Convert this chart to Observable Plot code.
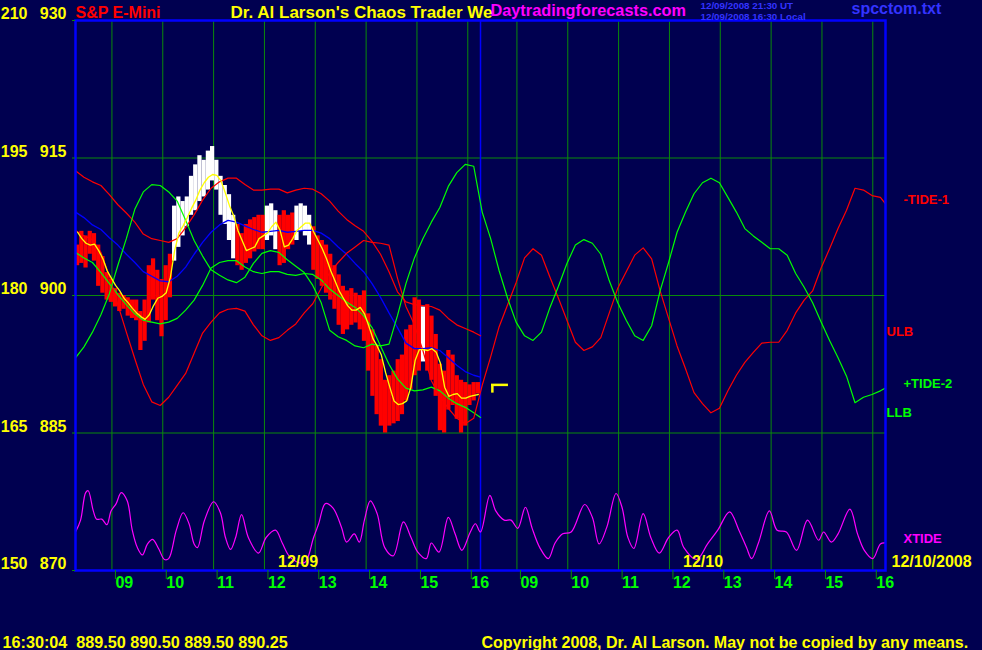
<!DOCTYPE html>
<html><head><meta charset="utf-8">
<script src="https://cdn.jsdelivr.net/npm/d3@7"></script>
<script src="https://cdn.jsdelivr.net/npm/@observablehq/plot@0.6"></script>
<style>html,body{margin:0;padding:0;background:#000050;overflow:hidden}svg{display:block}</style>
</head><body><div id="chart"></div><script>
// ---- time axis: minutes since 08:17 of day 1; each session 08:17-16:15 = 478 min
const DAY_LEN = 478;
const SESSION_START = 8 * 60 + 17;
const END = 2 * DAY_LEN;
const hours = [9, 10, 11, 12, 13, 14, 15, 16];
const days = ["12/09", "12/10"];
const fullDate = "12/10/2008";
const yTicks = [870, 885, 900, 915, 930];
const leftScale = [150, 165, 180, 195, 210];
const gridPrices = [885, 900, 915];

// ---- 5-minute price bars, day 1 (high / low)
const barHigh = [905.5,907.0,906.5,907.0,906.75,905.5,904.25,902.5,901.75,900.75,
  900.25,900.0,899.75,899.5,899.5,898.25,899.5,903.25,904.0,902.75,
  901.75,903.25,904.5,909.75,910.75,910.25,910.75,913.0,914.25,915.25,
  914.75,915.75,916.25,914.75,913.0,912.0,911.0,908.75,907.75,906.75,
  907.75,908.25,908.5,908.75,908.75,909.75,910.0,909.25,908.75,909.25,
  908.75,909.0,909.75,910.0,909.75,908.75,907.5,906.5,906.0,905.5,
  904.5,903.25,902.25,901.0,900.5,900.75,900.25,900.0,900.5,898.0,
  896.25,894.5,893.0,890.75,891.25,891.75,893.0,893.5,896.25,896.75,
  899.75,899.5,898.75,899.0,897.75,895.75,892.5,891.75,894.0,893.5,
  891.25,890.75,890.5,890.25,890.5,890.5];
const barLow = [903.25,903.5,903.0,904.5,903.75,901.0,900.25,899.5,899.25,898.75,
  898.25,898.5,897.75,897.5,897.25,894.0,895.0,897.0,899.5,897.25,
  895.5,897.25,899.75,903.75,905.25,906.5,907.5,908.75,909.25,910.25,
  910.75,911.5,912.5,911.5,908.75,907.75,906.0,904.0,903.25,902.75,
  903.5,904.0,904.75,905.0,905.0,906.0,906.5,905.0,903.25,903.5,
  905.0,905.5,906.0,907.0,906.5,905.5,902.75,901.75,901.0,900.25,
  899.5,898.5,896.75,895.75,896.25,896.75,897.0,896.25,895.0,891.75,
  889.0,887.0,885.75,885.0,885.75,886.0,886.25,887.0,888.5,889.75,
  891.25,891.75,892.75,891.75,890.75,889.0,885.25,885.0,887.5,888.0,
  886.5,885.0,885.75,888.0,888.5,889.25];
const whiteBars = [23,24,25,26,27,28,29,30,31,32,33,34,35,36,37,45,46,47,52,53,54,55,82];
// yellow average, one value per bar
const avgLine = [906.9,906.2,905.7,905.5,905.6,904.9,904.0,902.7,901.9,901.1,
  900.5,899.7,899.2,898.6,898.1,897.7,897.4,897.9,898.9,899.7,
  899.9,900.3,902.0,904.9,906.8,907.6,908.5,909.5,910.4,911.5,
  912.3,912.9,913.2,913.1,912.5,911.2,909.8,908.7,907.1,906.0,
  904.9,905.1,905.3,906.2,906.5,906.8,907.5,908.0,907.1,905.3,
  905.5,906.2,907.1,907.5,907.9,907.9,906.9,906.0,905.1,904.0,
  902.7,901.6,900.5,899.7,898.9,898.4,898.4,898.7,898.0,896.7,
  895.3,894.5,893.5,891.6,890.0,888.5,888.1,888.2,888.5,890.0,
  892.9,894.1,894.1,894.0,894.2,893.8,892.6,890.0,889.0,889.2,
  889.3,888.8,888.8,889.0,889.1,889.2];

// ---- 10-minute series
const tidePlus2 = [893.2,894.4,896.0,897.9,900.2,903.3,906.2,909.4,911.3,912.1,
  912.0,911.3,910.3,908.2,906.0,904.3,902.8,902.2,901.7,901.4,
  902.0,903.5,904.6,904.9,904.7,903.9,903.2,902.5,901.1,899.2,
  896.2,895.5,895.1,894.5,894.3,894.7,894.5,894.7,897.8,901.3,
  904.1,906.2,908.0,909.6,911.9,913.4,914.3,914.1,909.1,906.2,
  902.7,899.7,897.1,895.6,895.1,896.0,898.7,901.0,903.5,905.5,
  906.1,905.7,904.5,901.6,899.2,897.3,895.6,895.1,896.7,900.5,
  903.6,906.9,909.1,911.1,912.3,912.8,912.3,910.7,909.1,907.3,
  906.5,905.8,905.1,905.1,904.4,902.4,900.9,899.2,897.1,895.1,
  893.2,891.2,888.3,888.9,889.2,889.6,889.9];
const tideMinus1 = [907.1,906.5,906.1,904.7,902.1,899.0,896.0,893.1,890.3,888.4,
  888.0,888.9,890.2,891.5,893.7,895.9,897.1,898.1,898.5,898.6,
  898.3,896.8,895.6,895.1,895.4,896.2,896.9,898.1,899.1,900.8,
  902.5,903.6,904.6,905.3,906.0,905.8,905.7,905.5,901.9,898.8,
  896.8,894.0,890.7,889.0,887.7,886.6,886.0,886.6,890.2,893.3,
  896.6,899.0,901.4,904.1,905.1,904.4,902.0,899.7,897.3,894.9,
  894.0,894.4,895.4,898.1,900.8,902.6,904.4,905.2,904.0,900.5,
  897.5,894.5,892.0,889.4,888.2,887.2,887.7,889.6,891.3,892.7,
  893.8,894.8,894.9,894.9,896.2,898.1,899.5,900.5,903.0,905.1,
  907.3,909.3,911.7,911.5,910.9,910.7,910.0];
const ulb = [913.6,912.9,912.4,912.0,911.0,909.9,909.0,908.0,906.7,906.2,
  906.0,905.8,906.2,907.4,908.8,910.4,911.7,912.4,912.8,912.8,
  912.1,911.5,911.5,911.6,911.6,911.2,911.5,911.7,911.6,911.1,
  910.3,909.2,908.3,907.6,907.0,905.9,904.5,902.6,900.4,899.3,
  899.0,898.9,898.8,898.4,897.5,896.8,896.4,896.0,895.6];
const blueBand = [909.1,908.5,907.7,907.2,906.3,905.5,904.5,903.6,902.6,902.1,
  901.6,901.5,902.1,903.1,904.5,905.8,906.9,907.7,908.2,908.0,
  907.6,907.2,906.9,907.0,907.1,906.9,907.0,907.1,907.1,906.8,
  906.2,905.3,904.5,903.5,902.6,901.3,899.8,898.1,896.5,894.8,
  894.2,894.2,894.3,894.0,893.2,892.4,891.7,891.3,891.1];
const llb = [904.7,904.1,903.6,902.5,901.3,900.1,899.0,898.0,897.3,897.1,
  896.9,897.1,897.5,898.4,899.5,901.1,903.0,903.6,903.8,903.8,
  903.1,902.6,902.4,902.6,902.6,902.3,902.2,902.4,902.3,901.7,
  900.7,900.0,899.3,898.7,897.8,896.5,894.5,892.5,890.9,889.9,
  889.6,889.7,890.0,889.6,888.8,888.2,887.8,887.2,886.7];

// ---- XTIDE (minute, value) read at turning points
const xtideMin = [0,6,12,15,21,25,31,37,42,48,54,61,67,73,79,85,91,98,105,110,
  119,127,134,140,144,152,163,171,177,183,189,196,204,216,225,236,244,252,262,271,
  281,287,295,304,314,320,329,335,341,348,356,365,375,387,396,404,414,420,429,440,
  448,456,466,472,478,489,496,506,514,522,531,539,548,558,566,575,585,601,610,618,
  627,638,645,652,659,670,679,689,700,710,718,733,746,758,772,783,792,798,806,819,
  828,839,851,864,877,883,892,900,914,923,931,941,950,956];
const xtideVal = [874.2,875.5,878.5,878.7,876.5,875.6,875.6,875.0,876.5,877.3,
  878.5,877.6,874.4,872.5,871.7,872.9,873.4,872.4,871.2,871.3,
  874.4,876.3,875.1,872.9,872.5,875.4,877.5,876.3,873.6,872.3,
  873.6,876.1,873.6,871.9,873.6,874.4,873.0,871.6,870.9,870.9,
  873.6,875.1,877.3,876.8,874.7,873.1,874.0,873.1,875.5,877.6,
  876.2,872.5,871.6,875.3,873.6,872.0,871.3,873.0,872.0,875.8,
  874.0,872.2,874.2,875.1,874.2,878.2,876.5,875.5,875.5,874.6,
  876.9,874.6,872.5,871.3,873.0,874.0,874.2,877.2,875.8,872.9,
  874.7,878.4,876.9,873.6,872.4,876.2,873.6,871.9,873.6,874.4,
  872.5,871.2,872.9,874.4,876.4,874.4,872.5,871.3,873.0,876.5,
  874.4,874.2,872.2,875.5,873.3,874.2,873.1,874.0,876.7,874.0,
  872.2,871.3,872.9,873.0];

const quoteTime = "16:30:04";
const quote = [889.50, 890.50, 889.50, 890.25];
const lastPrice = quote[quote.length - 1];

// ---- derived tables
const hourTicks = days.flatMap((_, d) => hours.map(h => h * 60 - SESSION_START + d * DAY_LEN));
const hourOf = m => Math.round(((m % DAY_LEN) + SESSION_START) / 60);
const step = DAY_LEN / barHigh.length;
const bars = barHigh.map((hi, k) => ({t0: k * step, t1: (k + 1) * step, hi, lo: barLow[k], white: whiteBars.includes(k)}));
const avg = avgLine.map((v, k) => ({t: (k + 0.5) * step, v}));
const series10 = (vals, cap) => vals.map((v, i) => ({t: Math.min(i * 10, cap), v}));
const xtide = xtideMin.map((t, i) => ({t, v: xtideVal[i]}));
const yLab = yTicks.map((v, i) => ({v, left: leftScale[i]}));

const RED = "#ff0000", YEL = "#ffff00", GRN = "#00ff00", DKG = "#0a8a0a", BLU = "#0000ff", MAG = "#ff00ff", TBLU = "#3333ff";
const F = {fontFamily: "'Liberation Sans', Arial, sans-serif", fontWeight: "bold"};
const last = a => a[a.length - 1];
const rightLabel = (val, txt, color, dx) => Plot.text([val], {y: d => d, text: () => txt, frameAnchor: "right", textAnchor: "start", lineAnchor: "bottom", dx, fill: color, fontSize: 13, ...F});
const header = (txt, color, dx, dy, size) => Plot.text([txt], {text: d => d, frameAnchor: "top-left", textAnchor: "start", lineAnchor: "bottom", dx, dy, fill: color, fontSize: size, ...F});

const chart = Plot.plot({
  width: 982, height: 650,
  marginLeft: 75, marginRight: 97, marginTop: 20, marginBottom: 80,
  style: {background: "#000050", fontFamily: F.fontFamily, fontWeight: "bold", fontSize: "16px"},
  x: {domain: [0, END]},
  y: {domain: [870, 930]},
  marks: [
    Plot.ruleX(hourTicks, {stroke: DKG, strokeWidth: 1}),
    Plot.ruleY(gridPrices, {stroke: DKG, strokeWidth: 1}),
    Plot.ruleX([DAY_LEN], {stroke: BLU, strokeWidth: 1.5}),
    Plot.rect(bars, {x1: "t0", x2: "t1", y1: "lo", y2: "hi", fill: d => d.white ? "#ffffff" : RED}),
    Plot.line(series10(blueBand, DAY_LEN), {x: "t", y: "v", stroke: BLU, strokeWidth: 1.3}),
    Plot.line(series10(ulb, DAY_LEN), {x: "t", y: "v", stroke: RED, strokeWidth: 1.2}),
    Plot.line(series10(llb, DAY_LEN), {x: "t", y: "v", stroke: GRN, strokeWidth: 1.2}),
    Plot.line(series10(tideMinus1, END), {x: "t", y: "v", stroke: RED, strokeWidth: 1.2}),
    Plot.line(series10(tidePlus2, END), {x: "t", y: "v", stroke: GRN, strokeWidth: 1.2}),
    Plot.line(avg, {x: "t", y: "v", stroke: YEL, strokeWidth: 1.3}),
    Plot.line(xtide, {x: "t", y: "v", stroke: MAG, strokeWidth: 1.2, curve: "catmull-rom"}),
    Plot.ruleY([lastPrice], {x1: DAY_LEN + 13, x2: DAY_LEN + 33, stroke: YEL, strokeWidth: 2.5}),
    Plot.ruleX([DAY_LEN + 14], {y1: lastPrice, y2: lastPrice - 0.9, stroke: YEL, strokeWidth: 2.5}),
    Plot.frame({stroke: BLU, strokeWidth: 2.5}),
    // axes
    Plot.axisY(yTicks, {tickSize: 3, stroke: DKG, tickFormat: () => "", label: null}),
    Plot.axisX(hourTicks, {anchor: "bottom", tickSize: 9, tickPadding: -3, tickFormat: m => String(hourOf(m)).padStart(2, "0"),
      textAnchor: "start", dx: 3.5, stroke: DKG, fill: GRN, fontSize: 16, label: null, ...F}),
    Plot.text(yLab, {y: "v", text: d => String(d.v), frameAnchor: "left", textAnchor: "end", lineAnchor: "bottom", dx: -9, dy: -1.5, fill: YEL, fontSize: 16, ...F}),
    Plot.text(yLab, {y: "v", text: d => String(d.left), frameAnchor: "left", textAnchor: "end", lineAnchor: "bottom", dx: -48, dy: -1.5, fill: YEL, fontSize: 16, ...F}),
    // date labels
    Plot.text(days, {x: (d, i) => i * DAY_LEN + DAY_LEN / 2, text: d => d, frameAnchor: "bottom", textAnchor: "start", lineAnchor: "bottom", dy: -4, fill: YEL, fontSize: 16, ...F}),
    Plot.text([fullDate], {text: d => d, frameAnchor: "bottom-right", textAnchor: "start", lineAnchor: "bottom", dx: 6, dy: -4, fill: YEL, fontSize: 16, ...F}),
    // right labels at last values
    rightLabel(last(tideMinus1), "-TIDE-1", RED, 18),
    rightLabel(last(ulb), "ULB", RED, 1),
    rightLabel(last(tidePlus2), "+TIDE-2", GRN, 18),
    rightLabel(last(llb), "LLB", GRN, 1),
    rightLabel(last(xtideVal), "XTIDE", MAG, 18),
    // header
    header("S&P E-Mini", RED, 0, -3, 16),
    header("Dr. Al Larson's Chaos Trader We", YEL, 155, -3, 17),
    header("Daytradingforecasts.com", MAG, 415, -4.5, 16.3),
    header("12/09/2008 21:30 UT", TBLU, 625, -11.5, 9.8),
    header("12/09/2008 16:30 Local", TBLU, 625, -0.8, 9.8),
    header("spcctom.txt", TBLU, 776, -6.5, 16),
    // footer
    Plot.text([quoteTime + "  " + quote.map(q => q.toFixed(2)).join(" ")], {text: d => d, frameAnchor: "bottom-left", textAnchor: "start", lineAnchor: "bottom", dx: -73, dy: 77, fill: YEL, fontSize: 16.2, ...F}),
    Plot.text(["Copyright 2008, Dr. Al Larson. May not be copied by any means."], {text: d => d, frameAnchor: "bottom-left", textAnchor: "start", lineAnchor: "bottom", dx: 406, dy: 77, fill: YEL, fontSize: 16, ...F})
  ]
});
document.getElementById("chart").appendChild(chart);
</script></body></html>
